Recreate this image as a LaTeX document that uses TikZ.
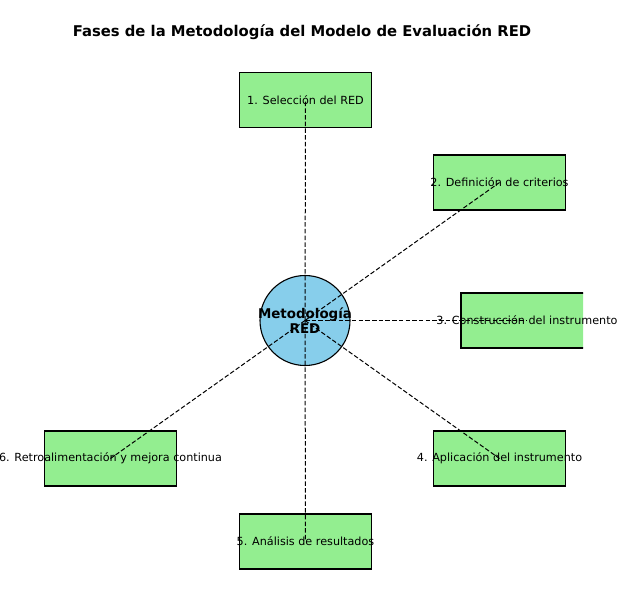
\documentclass[tikz,border=0pt]{standalone}
\usepackage{fontspec}
\setmainfont{DejaVu Sans}
\definecolor{boxgreen}{HTML}{93EE90}
\definecolor{circblue}{HTML}{87CEEB}
\tikzset{
  phasebox/.style={draw=black, line width=1.7pt, fill=boxgreen, minimum width=132pt, minimum height=55pt, inner sep=0pt},
  phasetext/.style={font=\fontsize{11.2}{13}\selectfont, inner sep=0pt},
  hub/.style={circle, draw=black, line width=1.1pt, fill=circblue, minimum size=90pt, inner sep=0pt},
  spoke/.style={dashed, dash pattern=on 4.5pt off 2.2pt, line width=1pt},
}
\begin{document}
\begin{tikzpicture}[x=1pt,y=-1pt]
\useasboundingbox (0,0) rectangle (631,603);
\node[font=\bfseries\fontsize{14.8}{17}\selectfont] (title) at (302,32) {Fases de la Metodología del Modelo de Evaluación RED};
\node[hub] (c) at (305,320.5) {};
\node[phasebox] (b1) at (305.5,100) {};
\node[phasebox] (b2) at (499.5,182.5) {};
\begin{scope}
\clip (0,0) rectangle (583,603);
\node[phasebox] (b3) at (527,320.5) {};
\end{scope}
\node[phasebox] (b4) at (499.5,458.5) {};
\node[phasebox] (b5) at (305.5,541.5) {};
\node[phasebox] (b6) at (110.5,458.5) {};
\foreach \i in {1,...,6} {\draw[spoke] (c.center) -- (b\i.center);}
\node[phasetext] (t1) at (b1.center) {1. Selección del RED};
\node[phasetext] (t2) at (b2.center) {2. Definición de criterios};
\node[phasetext] (t3) at (b3.center) {3. Construcción del instrumento};
\node[phasetext] (t4) at (b4.center) {4. Aplicación del instrumento};
\node[phasetext] (t5) at (b5.center) {5. Análisis de resultados};
\node[phasetext] (t6) at (b6.center) {6. Retroalimentación y mejora continua};
\node[font=\bfseries\fontsize{13.4}{14.6}\selectfont, align=center, inner sep=0pt] (ct) at (c.center) {Metodología\\RED};
\end{tikzpicture}
\end{document}
